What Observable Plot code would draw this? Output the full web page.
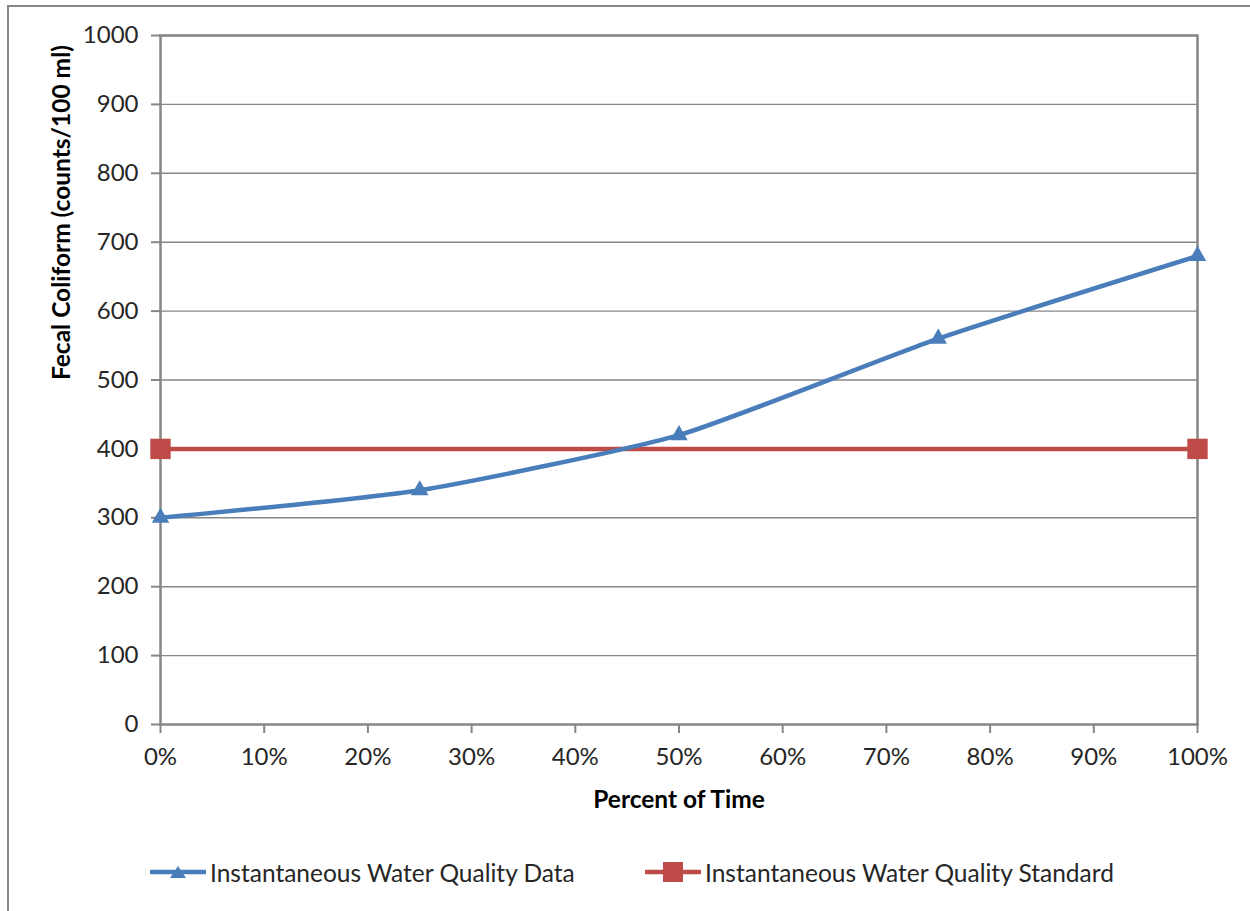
<!DOCTYPE html>
<html>
<head>
<meta charset="utf-8">
<script src="https://cdn.jsdelivr.net/npm/d3@7"></script>
<script src="https://cdn.jsdelivr.net/npm/@observablehq/plot@0.6"></script>
<style>
  html, body { margin: 0; padding: 0; background: #fff; overflow: hidden; width: 1250px; height: 911px; }
  #frame { position: absolute; left: 7px; top: 5px; width: 1280px; height: 940px; border: 2.5px solid #868686; box-sizing: border-box; }
  #chart { position: absolute; left: 0; top: 0; }
  #legend { position: absolute; left: 0; top: 852px; width: 1250px; height: 40px; font-family: Lato, "Open Sans", sans-serif; font-size: 24.5px; color: #262626; }
  .item { position: absolute; top: 0; height: 40px; display: flex; align-items: center; }
  .item svg { margin-right: 4px; }
</style>
</head>
<body>
<div id="frame"></div>
<div id="chart"></div>
<div id="legend"></div>
<script>
const percentTime = [0, 0.25, 0.5, 0.75, 1.0];
const dataValues = [300, 340, 420, 560, 680];
const standardX = [0, 1.0];
const standardValues = [400, 400];
const yTicks = [0, 100, 200, 300, 400, 500, 600, 700, 800, 900, 1000];
const xTicks = [0, 0.1, 0.2, 0.3, 0.4, 0.5, 0.6, 0.7, 0.8, 0.9, 1.0];
const seriesNames = ["Instantaneous Water Quality Data", "Instantaneous Water Quality Standard"];
const xTitle = "Percent of Time";
const yTitle = "Fecal Coliform (counts/100 ml)";

const blue = "#4a7ebb";
const red = "#be4b48";
const gray = "#868686";

const dataRows = percentTime.map((x, i) => ({x, y: dataValues[i]}));
const stdRows = standardX.map((x, i) => ({x, y: standardValues[i]}));

const chart = Plot.plot({
  width: 1250,
  height: 840,
  marginLeft: 160,
  marginRight: 53,
  marginTop: 35,
  marginBottom: 116,
  style: {fontFamily: "Lato, 'Open Sans', sans-serif", fontSize: "24px", color: "#262626", background: "transparent"},
  x: {domain: [0, 1]},
  y: {domain: [0, 1000]},
  marks: [
    Plot.ruleY(yTicks.slice(1), {stroke: gray, strokeWidth: 1.4}),
    Plot.frame({stroke: gray, strokeWidth: 2.5}),
    Plot.axisY({ticks: yTicks, tickSize: 9, tickPadding: 13, tickFormat: d3.format("d"), stroke: gray, strokeWidth: 2, label: null, fill: "#262626", fontSize: 24}),
    Plot.axisX({ticks: xTicks, tickSize: 9, tickPadding: 14, tickFormat: d3.format(".0%"), stroke: gray, strokeWidth: 2, label: null, fill: "#262626", fontSize: 24}),
    Plot.line(stdRows, {x: "x", y: "y", stroke: red, strokeWidth: 4.5}),
    Plot.line(dataRows, {x: "x", y: "y", stroke: blue, strokeWidth: 4.5, curve: "cardinal", tension: 0.45}),
    Plot.dot(stdRows, {x: "x", y: "y", symbol: "square", r: 11.5, fill: red}),
    Plot.dot(dataRows, {x: "x", y: "y", symbol: "triangle", r: 6.5, fill: blue}),
    Plot.text([xTitle], {frameAnchor: "bottom", text: d => d, dy: 83, fontWeight: "bold", fill: "#000", fontSize: 24.5}),
    Plot.text([yTitle], {frameAnchor: "left", text: d => d, dx: -98, rotate: -90, fontWeight: "bold", fill: "#000", fontSize: 24.5})
  ]
});
document.getElementById("chart").appendChild(chart);

const legend = document.getElementById("legend");
const lx = [150, 645];
const colors = [blue, red];
const syms = ["triangle", "square"];
seriesNames.forEach((name, i) => {
  const div = document.createElement("div");
  div.className = "item";
  div.style.left = lx[i] + "px";
  const shape = syms[i] === "triangle"
    ? '<path d="M28,12 L36,24 L20,24 Z" fill="' + colors[i] + '"/>'
    : '<rect x="18" y="8" width="20" height="20" fill="' + colors[i] + '"/>';
  div.innerHTML = '<svg width="56" height="36"><line x1="1" y1="18" x2="55" y2="18" stroke="' + colors[i] + '" stroke-width="4.5" stroke-linecap="round"/>' + shape + '</svg><span>' + name + '</span>';
  legend.appendChild(div);
});
</script>
</body>
</html>
